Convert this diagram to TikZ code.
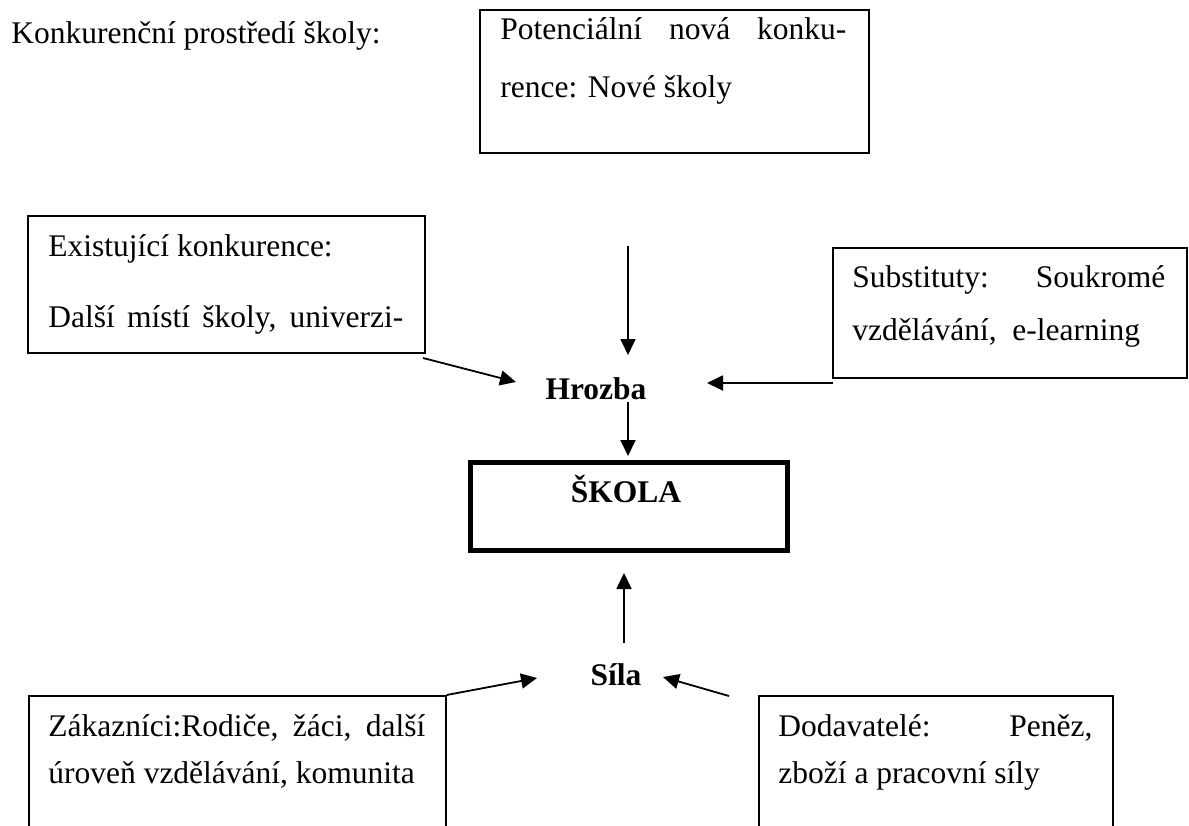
\documentclass[tikz,border=0pt]{standalone}
\usepackage{fontspec}
\setmainfont{Liberation Serif}
\usetikzlibrary{arrows.meta}
\begin{document}
\begin{tikzpicture}[x=0.5pt,y=-0.5pt,
  every node/.style={font=\fontsize{15.75pt}{18pt}\selectfont},
  txt/.style={anchor=base west,inner sep=0pt},
  lbl/.style={anchor=base,inner sep=0pt,font=\fontsize{15.75pt}{18pt}\selectfont\bfseries},
  boxframe/.style={draw,line width=0.8pt,anchor=north west,inner sep=0pt},
  thickframe/.style={draw,line width=2.5pt,anchor=north west,inner sep=0pt},
  arr/.style={line width=0.9pt,-{Triangle[length=8pt,width=7.5pt]}}]
\useasboundingbox (0,0) rectangle (1189,825);

% boxes
\node[boxframe,minimum width=194.5pt,minimum height=71.5pt] (topbox) at (479,9) {};
\node[boxframe,minimum width=198.5pt,minimum height=68.5pt] (exbox) at (27,215) {};
\node[boxframe,minimum width=177pt,minimum height=65pt] (subbox) at (832,247) {};
\node[boxframe,minimum width=208.5pt,minimum height=150pt] (zkbox) at (28,695) {};
\node[boxframe,minimum width=177pt,minimum height=150pt] (dvbox) at (758,695) {};
\node[thickframe,minimum width=158.5pt,minimum height=44pt] (skola) at (467.5,459.5) {};

% texts
\node[txt] (title) at (11,43) {Konkurenční prostředí školy:};
\node[txt] (tb1) at (500,39) {\makebox[173pt][s]{Potenciální nová konku-}};
\node[txt] (tb2) at (500,97) {rence: Nové školy};
\node[txt] (ex1) at (48,256) {Existující konkurence:};
\node[txt] (ex2) at (48,327) {\makebox[177.5pt][s]{Další místí školy, univerzi-}};
\node[txt] (sb1) at (852,287) {\makebox[156.5pt][s]{Substituty: Soukromé}};
\node[txt] (sb2) at (852,340) {vzdělávání,\ \ e-learning};
\node[txt] (zk1) at (48,736) {\makebox[188.5pt][s]{Zákazníci:Rodiče, žáci, další}};
\node[txt] (zk2) at (48,783) {úroveň vzdělávání, komunita};
\node[txt] (dv1) at (778,736) {\makebox[157pt][s]{Dodavatelé: Peněz,}};
\node[txt] (dv2) at (778,783) {zboží a pracovní síly};

% labels
\node[lbl] (hrozba) at (596,399) {Hrozba};
\node[lbl] (skolat) at (626,502) {ŠKOLA};
\node[lbl] (sila) at (616,685) {Síla};

% arrow ends
\coordinate (a1s) at (628,246); \coordinate (a1e) at (628,355);
\coordinate (a2s) at (628,402); \coordinate (a2e) at (628,456);
\coordinate (a3s) at (423,358); \coordinate (a3e) at (516,382);
\coordinate (a4s) at (833,383); \coordinate (a4e) at (707,383);
\coordinate (a5s) at (624,643); \coordinate (a5e) at (624,573);
\coordinate (a6e) at (537,678);
\coordinate (a7s) at (729,696); \coordinate (a7e) at (663,677);

\draw[arr] (a1s) -- (a1e);
\draw[arr] (a2s) -- (a2e);
\draw[arr] (a3s) -- (a3e);
\draw[arr] (a4s) -- (a4e);
\draw[arr] (a5s) -- (a5e);
\draw[arr] (zkbox.north east) -- (a6e);
\draw[arr] (a7s) -- (a7e);
\end{tikzpicture}
\end{document}
